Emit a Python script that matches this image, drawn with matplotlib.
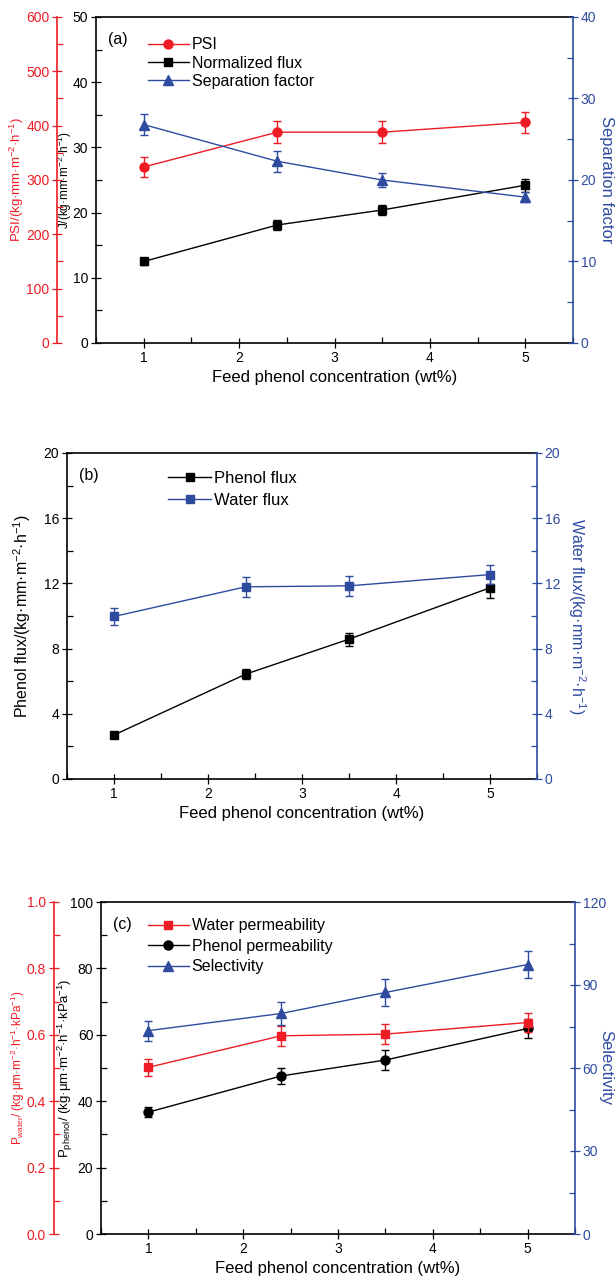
import matplotlib
matplotlib.use('Agg')
import matplotlib.pyplot as plt
from matplotlib.ticker import MultipleLocator
import numpy as np

plt.rcParams['font.family'] = ['Liberation Sans', 'DejaVu Sans']
plt.rcParams['mathtext.fontset'] = 'custom'
plt.rcParams['mathtext.rm'] = 'Liberation Sans'
plt.rcParams['mathtext.default'] = 'regular'

RED = '#ee1c24'
BLUE = '#2e4ba0'
BLK = 'black'

# data
conc = [1, 2.4, 3.5, 5]

# (a)
psi = [324, 388, 388, 406]
psi_err = [18, 20, 20, 20]
norm_flux = [12.5, 18.1, 20.4, 24.2]
norm_flux_err = [0.6, 0.8, 0.8, 1.0]
sep_factor = [26.8, 22.3, 20.0, 17.9]
sep_factor_err = [1.3, 1.3, 0.9, 0.6]

# (b)
phenol_flux = [2.7, 6.43, 8.58, 11.73]
phenol_flux_err = [0.15, 0.3, 0.4, 0.6]
water_flux = [9.97, 11.79, 11.85, 12.54]
water_flux_err = [0.5, 0.6, 0.6, 0.6]

# (c)
water_perm = [0.502, 0.597, 0.602, 0.637]
water_perm_err = [0.025, 0.03, 0.03, 0.03]
phenol_perm = [36.7, 47.6, 52.4, 61.9]
phenol_perm_err = [1.5, 2.4, 3.0, 3.0]
selectivity = [73.5, 79.7, 87.3, 97.4]
selectivity_err = [3.6, 4.0, 5.0, 5.0]

W, H = 615, 1279
fig = plt.figure(figsize=(W / 100, H / 100), dpi=100)


def px_axes(left, right, top, bottom):
    return fig.add_axes([left / W, (H - bottom) / H, (right - left) / W, (bottom - top) / H])


def style_axis(a, color, side, major, minor, lim):
    a.set_ylim(*lim)
    a.yaxis.set_major_locator(MultipleLocator(major))
    a.yaxis.set_minor_locator(MultipleLocator(minor))
    a.tick_params(axis='y', which='major', direction='inout', length=7, width=0.9,
                  colors=color, labelsize=10, pad=2)
    a.tick_params(axis='y', which='minor', direction='in', length=4, width=0.9, colors=color)
    for s in ['top', 'bottom', 'left', 'right']:
        a.spines[s].set_visible(False)
    a.spines[side].set_visible(True)
    a.spines[side].set_color(color)
    a.spines[side].set_linewidth(1.2)


def base_axes(a, ylim, major, minor):
    a.set_xlim(0.5, 5.5)
    a.set_ylim(*ylim)
    a.xaxis.set_major_locator(MultipleLocator(1))
    a.xaxis.set_minor_locator(MultipleLocator(0.5))
    a.yaxis.set_major_locator(MultipleLocator(major))
    a.yaxis.set_minor_locator(MultipleLocator(minor))
    a.tick_params(which='major', direction='inout', length=7, width=0.9, labelsize=10, pad=2)
    a.tick_params(which='minor', direction='in', length=4, width=0.9)
    a.tick_params(axis='x', top=False)
    a.spines['right'].set_visible(False)
    for s in ['top', 'bottom', 'left']:
        a.spines[s].set_linewidth(1.2)
    a.set_xlabel('Feed phenol concentration (wt%)', fontsize=12, labelpad=4)


def eb(a, y, err, color, marker, ms=6.5):
    c = a.errorbar(conc, y, yerr=err, color=color, marker=marker, ms=ms, lw=1.0,
                   capsize=3, elinewidth=1.0, capthick=1.0)
    return c.lines[0]


def right_label(a, text, xpos, size=12):
    a.set_ylabel(text, color=BLUE, fontsize=size, rotation=270, va='center', ha='center')
    a.yaxis.set_label_coords(xpos, 0.5)


def left_label(a, text, xpos, size, color=BLK):
    a.set_ylabel(text, color=color, fontsize=size, va='center', ha='center')
    a.yaxis.set_label_coords(xpos, 0.5)


leg_kw = dict(loc='upper left', frameon=False, handlelength=2.6, handletextpad=0.15,
              borderaxespad=0.3)

# ---------- (a) ----------
labels_a = ['PSI', 'Normalized flux', 'Separation factor']
ax = px_axes(96, 573, 17, 343)
base_axes(ax, (0, 50), 10, 5)
left_label(ax, 'J/(kg·mm·m$^{-2}$·h$^{-1}$)', -0.066, 8.5)

axr = ax.twinx()
style_axis(axr, RED, 'left', 100, 50, (0, 600))
axr.spines['left'].set_position(('outward', 28))
axr.yaxis.set_ticks_position('left')
axr.yaxis.set_label_position('left')
left_label(axr, 'PSI/(kg·mm·m$^{-2}$·h$^{-1}$)', -0.166, 9.5, RED)

axb = ax.twinx()
style_axis(axb, BLUE, 'right', 10, 5, (0, 40))
right_label(axb, 'Separation factor', 1.071)

h1 = eb(axr, psi, psi_err, RED, 'o')
h2 = eb(ax, norm_flux, norm_flux_err, BLK, 's', ms=6)
h3 = eb(axb, sep_factor, sep_factor_err, BLUE, '^', ms=7)
axb.legend([h1, h2, h3], labels_a, bbox_to_anchor=(0.085, 0.972), fontsize=11.5,
           labelspacing=0.2, **leg_kw)
ax.text(0.025, 0.955, '(a)', transform=ax.transAxes, fontsize=11.5, va='top')

# ---------- (b) ----------
labels_b = ['Phenol flux', 'Water flux']
ax = px_axes(67, 537, 453, 779)
base_axes(ax, (0, 20), 4, 2)
left_label(ax, 'Phenol flux/(kg·mm·m$^{-2}$·h$^{-1}$)', -0.096, 11.5)

axb = ax.twinx()
style_axis(axb, BLUE, 'right', 4, 2, (0, 20))
right_label(axb, 'Water flux/(kg·mm·m$^{-2}$·h$^{-1}$)', 1.085, 11.5)

h1 = eb(ax, phenol_flux, phenol_flux_err, BLK, 's', ms=6)
h2 = eb(axb, water_flux, water_flux_err, BLUE, 's', ms=6)
axb.legend([h1, h2], labels_b, bbox_to_anchor=(0.19, 0.982), fontsize=12,
           labelspacing=0.42, **leg_kw)
ax.text(0.025, 0.955, '(b)', transform=ax.transAxes, fontsize=11.5, va='top')

# ---------- (c) ----------
labels_c = ['Water permeability', 'Phenol permeability', 'Selectivity']
ax = px_axes(101, 575, 902, 1234)
base_axes(ax, (0, 100), 20, 10)
left_label(ax, 'P$_{phenol}$/ (kg·μm·m$^{-2}$·h$^{-1}$·kPa$^{-1}$)', -0.076, 9.5)

axr = ax.twinx()
style_axis(axr, RED, 'left', 0.2, 0.1, (0, 1.0))
axr.spines['left'].set_position(('outward', 34))
axr.yaxis.set_ticks_position('left')
axr.yaxis.set_label_position('left')
axr.yaxis.set_major_formatter(plt.FormatStrFormatter('%.1f'))
left_label(axr, 'P$_{water}$/ (kg·μm·m$^{-2}$·h$^{-1}$·kPa$^{-1}$)', -0.176, 8.5, RED)

axb = ax.twinx()
style_axis(axb, BLUE, 'right', 30, 15, (0, 120))
right_label(axb, 'Selectivity', 1.065)

h1 = eb(axr, water_perm, water_perm_err, RED, 's', ms=6)
h2 = eb(ax, phenol_perm, phenol_perm_err, BLK, 'o', ms=6.5)
h3 = eb(axb, selectivity, selectivity_err, BLUE, '^', ms=7)
axb.legend([h1, h2, h3], labels_c, bbox_to_anchor=(0.075, 0.985), fontsize=11.5,
           labelspacing=0.35, **leg_kw)
ax.text(0.025, 0.955, '(c)', transform=ax.transAxes, fontsize=11.5, va='top')

fig.savefig('out.png', dpi=100)
